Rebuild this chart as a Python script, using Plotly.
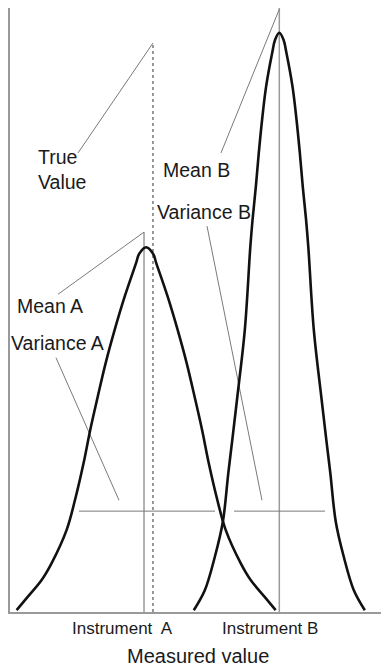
import plotly.graph_objects as go

# curve readings (x: measured value units 0-100, y: relative density 0-1)
curve_a_x = [1.79, 4.76, 8.53, 11.23, 15.27, 17.70, 19.85, 21.61, 23.63, 25.78, 28.21, 30.90,
             34.00, 34.81, 36.70, 38.59, 39.40, 42.50, 45.19, 47.62, 49.77, 51.79, 53.55,
             55.70, 58.13, 62.17, 64.87, 68.64, 71.61]
curve_a_y = [0.003, 0.025, 0.053, 0.081, 0.136, 0.190, 0.247, 0.301, 0.356, 0.412, 0.467, 0.522,
             0.578, 0.593, 0.604, 0.593, 0.578, 0.522, 0.467, 0.412, 0.356, 0.301, 0.247,
             0.190, 0.136, 0.081, 0.053, 0.025, 0.003]

curve_b_x = [49.54, 52.51, 55.20, 57.36, 58.84, 59.92, 61.27, 63.29, 64.77, 65.37, 66.26, 67.06,
             67.95, 69.01, 70.65, 71.43, 72.59, 73.75, 74.53, 76.17, 77.23, 78.12, 78.92,
             79.81, 80.41, 81.89, 83.91, 85.26, 86.34, 87.82, 89.98, 92.67, 95.64]
curve_b_y = [0.003, 0.036, 0.091, 0.149, 0.230, 0.285, 0.356, 0.467, 0.604, 0.649, 0.704, 0.760,
             0.815, 0.869, 0.925, 0.947, 0.959, 0.947, 0.925, 0.869, 0.815, 0.760, 0.704,
             0.649, 0.604, 0.467, 0.356, 0.285, 0.230, 0.149, 0.091, 0.036, 0.003]

# reference positions
instrument_a = 36.12
instrument_a_top = 0.629
instrument_b = 72.59
true_value = 38.54
true_value_top = 0.942

# variance bars (x_start, x_end, level)
variance_a = (18.6, 55.26, 0.167)
variance_b = (60.38, 84.9, 0.167)

# label text and leader lines (label, label_x, label_y, line_from, line_to)
labels = [
    ("True<br>Value", 6.9, 0.733, (18.33, 0.760), (true_value, true_value_top)),
    ("Mean B", 40.6, 0.732, (56.87, 0.760), (instrument_b, 0.998)),
    ("Variance B", 39.0, 0.662, (53.1, 0.639), (67.92, 0.185)),
    ("Mean A", 1.3, 0.507, (12.94, 0.526), (instrument_a, instrument_a_top)),
    ("Variance A", 0.0, 0.445, (12.4, 0.421), (29.38, 0.185)),
]
axis_labels = [("Instrument  A", 30.32), ("Instrument B", 69.95)]
x_title = "Measured value"

FONT = "Liberation Sans, Arial, sans-serif"
GREY = "#9a9a9a"
LEADER = "#7a7a7a"
TEXT = "#1a1a1a"

fig = go.Figure()

# vertical reference lines
fig.add_trace(go.Scatter(x=[instrument_a, instrument_a], y=[0, instrument_a_top], mode="lines",
                         line=dict(color=GREY, width=1.5), hoverinfo="skip"))
fig.add_trace(go.Scatter(x=[instrument_b, instrument_b], y=[0, 1], mode="lines",
                         line=dict(color=GREY, width=1.5), hoverinfo="skip"))
fig.add_trace(go.Scatter(x=[true_value, true_value], y=[0, true_value_top], mode="lines",
                         line=dict(color="#333333", width=1, dash="dot"), hoverinfo="skip"))

# variance bars
for x0, x1, lvl in (variance_a, variance_b):
    fig.add_trace(go.Scatter(x=[x0, x1], y=[lvl, lvl], mode="lines",
                             line=dict(color=LEADER, width=1), hoverinfo="skip"))

# leader lines
for _, _, _, p0, p1 in labels:
    fig.add_trace(go.Scatter(x=[p0[0], p1[0]], y=[p0[1], p1[1]], mode="lines",
                             line=dict(color=LEADER, width=1), hoverinfo="skip"))

# distributions
fig.add_trace(go.Scatter(x=curve_a_x, y=curve_a_y, mode="lines", line_shape="spline",
                         line=dict(color="#111111", width=2.6), hoverinfo="skip"))
fig.add_trace(go.Scatter(x=curve_b_x, y=curve_b_y, mode="lines", line_shape="spline",
                         line=dict(color="#111111", width=2.6), hoverinfo="skip"))

for text, lx, ly, _, _ in labels:
    # the leftmost label sits right on the axis, nudge it in pixels
    fig.add_annotation(x=lx, y=ly, xshift=-1 if lx == 0 else 0, text=text, showarrow=False,
                       xanchor="left", yanchor="middle", align="left",
                       font=dict(family=FONT, size=19.5, color=TEXT))

for text, lx in axis_labels:
    fig.add_annotation(x=lx, y=0, yref="paper", yshift=-16, text=text, showarrow=False,
                       xanchor="center", yanchor="middle",
                       font=dict(family=FONT, size=17, color=TEXT))

fig.add_annotation(x=50.67, y=0, yref="paper", yshift=-44, text=x_title, showarrow=False,
                   xanchor="center", yanchor="middle",
                   font=dict(family=FONT, size=20, color=TEXT))

fig.update_layout(
    width=381, height=668,
    margin=dict(l=10, r=0, t=8, b=56),
    paper_bgcolor="white", plot_bgcolor="white",
    showlegend=False,
    xaxis=dict(range=[0, 100], showgrid=False, zeroline=False, showticklabels=False,
               ticks="", showline=True, linecolor=GREY, linewidth=1.5, fixedrange=True),
    yaxis=dict(range=[0, 1], showgrid=False, zeroline=False, showticklabels=False,
               ticks="", showline=True, linecolor=GREY, linewidth=1.5, fixedrange=True),
)

fig.write_html("out.html", config={"displayModeBar": False},
               post_script="document.body.style.margin='0';")
